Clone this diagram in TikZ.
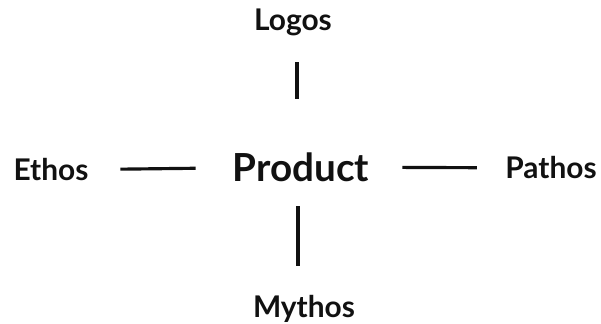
\documentclass[tikz,border=0pt]{standalone}
\usepackage{fontspec}
\setmainfont{Lato}
\usepackage{xcolor}
\usepackage{tikz}
\usetikzlibrary{positioning}
\definecolor{inkblack}{HTML}{111111}
\tikzset{
  termnode/.style={inkblack, font=\fontsize{17}{19}\selectfont\bfseries, inner sep=0pt},
  centernode/.style={inkblack, font=\fontsize{22}{24}\selectfont\bfseries, inner sep=0pt},
  link/.style={inkblack, line width=1.8pt}
}
\begin{document}
\begin{tikzpicture}[x=0.02cm, y=-0.02cm]
  \useasboundingbox (0,0) rectangle (601,324);
  \node[centernode] (product) at (301,167) {Product};
  \node[termnode] (logos) at (293,22) {Logos};
  \node[termnode] (ethos) at (51,170) {Ethos};
  \node[termnode] (pathos) at (551,168) {Pathos};
  \node[termnode] (mythos) at (304,309) {Mythos};
  % spokes
  \draw[link, shorten <=18pt, shorten >=21pt] (ethos) -- (product);
  \draw[link, shorten <=18.7pt, shorten >=16pt] (product) -- (pathos);
  \draw[link, shorten <=15pt, shorten >=30pt] ([xshift=2.3pt]logos.south) -- ([xshift=2.3pt]logos.south |- product.north);
  \draw[link, shorten <=14pt, shorten >=16.4pt] ([xshift=-3.4pt]mythos.north |- product.south) -- ([xshift=-3.4pt]mythos.north);
\end{tikzpicture}
\end{document}
